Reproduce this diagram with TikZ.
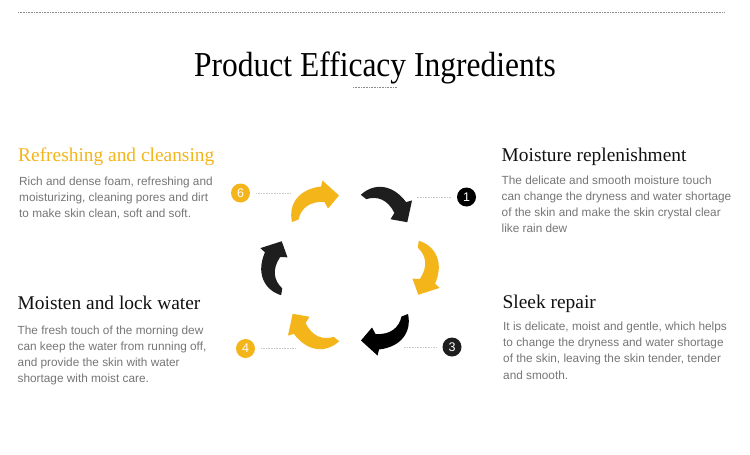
\documentclass[tikz,border=0pt]{standalone}
\usepackage{fontspec}
\setmainfont{Liberation Serif}
\newfontfamily\bodyfont{Liberation Sans}
\newfontfamily\titlefont[FakeStretch=0.9]{Liberation Serif}
\definecolor{gold}{RGB}{243,181,26}
\definecolor{darkarrow}{RGB}{30,30,30}
\definecolor{bodygray}{RGB}{118,118,118}
\definecolor{headblack}{RGB}{17,17,17}
\tikzset{
  head/.style={anchor=base west, inner sep=0pt, text=headblack, font=\fontsize{19.4}{22}\selectfont},
  body/.style={anchor=base west, inner sep=0pt, align=left, text=bodygray, font=\bodyfont\fontsize{11.8}{16.2}\selectfont},
  badge/.style={circle, minimum size=19pt, inner sep=0pt, text=white, font=\bodyfont\fontsize{12.5}{14}\selectfont},
  leader/.style={draw=black!22, line width=0.6pt, densely dotted},
  rule/.style={draw=black!45, line width=0.6pt, densely dotted}
}
\begin{document}
\begin{tikzpicture}[x=1pt,y=-1pt]
\useasboundingbox[fill=white] (0,0) rectangle (750,455);

% top rule
\coordinate (ruleL) at (18,12);
\coordinate (ruleR) at (725,12);
\draw[rule] (ruleL) -- (ruleR);

% title
\node[anchor=base, inner sep=0pt, text=black, font=\titlefont\fontsize{35}{40}\selectfont] (title) at (375,76) {Product Efficacy Ingredients};
\coordinate (ulL) at (353,87);
\coordinate (ulR) at (397,87);
\draw[rule] (ulL) -- (ulR);

% headings
\node[head, text=gold] (h6) at (18,161) {Refreshing and cleansing};
\node[head] (h1) at (501.5,161) {Moisture replenishment};
\node[head] (h4) at (17.5,309) {Moisten and lock water};
\node[head] (h3) at (502.5,308.5) {Sleek repair};

% body texts (anchored at the baseline of the last line)
\node[body] (t6) at (19,217.9) {Rich and dense foam, refreshing and\\moisturizing, cleaning pores and dirt\\to make skin clean, soft and soft.};
\node[body] (t1) at (501.5,232.6) {The delicate and smooth moisture touch\\can change the dryness and water shortage\\of the skin and make the skin crystal clear\\like rain dew};
\node[body] (t4) at (17.5,382.6) {The fresh touch of the morning dew\\can keep the water from running off,\\and provide the skin with water\\shortage with moist care.};
\node[body] (t3) at (503,379.1) {It is delicate, moist and gentle, which helps\\to change the dryness and water shortage\\of the skin, leaving the skin tender, tender\\and smooth.};

% badges
\node[badge, fill=gold] (b6) at (240.5,193) {6};
\node[badge, fill=black] (b1) at (466.5,197) {1};
\node[badge, fill=gold] (b4) at (245.5,348.5) {4};
\node[badge, fill=darkarrow] (b3) at (452,347) {3};

% leaders
\coordinate (l6) at (291,193);
\coordinate (l1) at (417,197);
\coordinate (l4) at (296,348.5);
\coordinate (l3) at (403,347);
\draw[leader, shorten <=6pt] (b6.east) -- (l6);
\draw[leader, shorten <=6pt] (b1.west) -- (l1);
\draw[leader, shorten <=6pt] (b4.east) -- (l4);
\draw[leader, shorten <=6pt] (b3.west) -- (l3);

% cycle of curved arrows (same shape turned about the centre)
\foreach \ang/\col in {0/gold,-60/darkarrow,-120/gold,-180/black,-240/gold,-300/darkarrow}{
  \fill[\col, rotate around={\ang:(350,268)}]
    (292,222) .. controls (288,204) and (299,189) .. (321,186.5)
    -- (322.5,180.5) -- (339,195.5) -- (328,208.5) -- (324.5,202)
    .. controls (310,201) and (301,208) .. (298.5,219.5) -- cycle;
}
\end{tikzpicture}
\end{document}
